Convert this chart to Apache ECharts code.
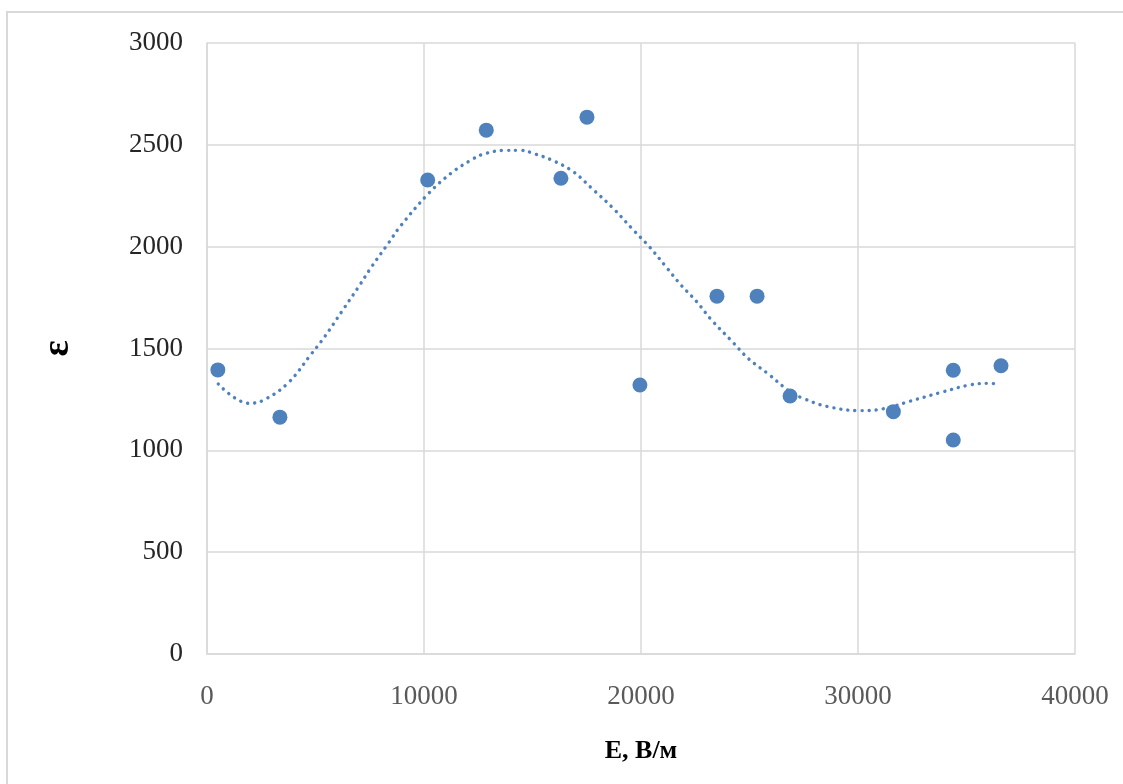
<!DOCTYPE html>
<html>
<head>
<meta charset="utf-8">
<script src="https://cdn.jsdelivr.net/npm/echarts@6/dist/echarts.min.js"></script>
<style>
html,body{margin:0;padding:0;background:#fff;}
#chart{width:1123px;height:784px;}
</style>
</head>
<body>
<div id="chart"></div>
<script>
// Measured points: E (V/m) and permittivity ε
const fieldE = [500, 3360, 10170, 12870, 16310, 17510, 19950, 23500, 25350, 26870, 31630, 34390, 34390, 36590];
const epsilon = [1395, 1163, 2327, 2572, 2336, 2636, 1321, 1757, 1757, 1267, 1190, 1393, 1051, 1415];

// Trend line
const trendE = [520, 1935, 2594, 3719, 4792, 5424, 6207, 6991, 7571, 8373, 8894, 10244, 11276, 12119, 12732, 13764, 14455, 15114, 15957, 16879, 17727, 18722, 19644, 20382, 21183, 21842, 22566, 23224, 24178, 24975, 25865, 26865, 27478, 28556, 30090, 31164, 32394, 33777, 35159, 36081, 36541];
const trendEps = [1326, 1231, 1246, 1329, 1471, 1558, 1681, 1804, 1899, 2019, 2098, 2265, 2363, 2422, 2454, 2473, 2473, 2455, 2422, 2368, 2287, 2188, 2082, 2000, 1897, 1812, 1730, 1643, 1537, 1448, 1375, 1288, 1255, 1216, 1195, 1204, 1241, 1283, 1321, 1329, 1321];

const xTicks = {min: 0, max: 40000, interval: 10000};
const yTicks = {min: 0, max: 3000, interval: 500};

const chart = echarts.init(document.getElementById('chart'));
const serif = '"Liberation Serif", "DejaVu Serif", serif';
const gridColor = '#d9d9d9';
const blue = '#4F81BD';

chart.setOption({
  animation: false,
  backgroundColor: '#fff',
  graphic: [{
    type: 'rect',
    shape: {x: 7, y: 12, width: 1200, height: 900},
    style: {fill: 'none', stroke: '#d9d9d9', lineWidth: 2},
    silent: true
  }],
  grid: {left: 207, right: 48, top: 43, bottom: 130},
  xAxis: {
    type: 'value',
    min: xTicks.min, max: xTicks.max, interval: xTicks.interval,
    name: 'E, В/м',
    nameLocation: 'middle',
    nameGap: 84,
    nameTextStyle: {fontFamily: serif, fontSize: 26, fontWeight: 'bold', color: '#000'},
    axisLine: {show: true, lineStyle: {color: gridColor, width: 1.5}},
    axisTick: {show: false},
    axisLabel: {fontFamily: serif, fontSize: 27, color: '#595959', margin: 29, formatter: v => String(v)},
    splitLine: {show: true, lineStyle: {color: gridColor, width: 1.5}}
  },
  yAxis: {
    type: 'value',
    min: yTicks.min, max: yTicks.max, interval: yTicks.interval,
    name: 'ε',
    nameLocation: 'middle',
    nameRotate: 90,
    nameGap: 130,
    nameTextStyle: {fontFamily: serif, fontSize: 38, fontWeight: 'bold', color: '#000'},
    axisLine: {show: true, lineStyle: {color: gridColor, width: 1.5}},
    axisTick: {show: false},
    axisLabel: {fontFamily: serif, fontSize: 27, color: '#262626', margin: 24, formatter: v => String(v)},
    splitLine: {show: true, lineStyle: {color: gridColor, width: 1.5}}
  },
  series: [
    {
      type: 'line',
      data: trendE.map((x, i) => [x, trendEps[i]]),
      smooth: 0.4,
      showSymbol: false,
      symbol: 'none',
      lineStyle: {color: blue, width: 3.4, type: [0.1, 7], cap: 'round', opacity: 1},
      z: 2
    },
    {
      type: 'scatter',
      data: fieldE.map((x, i) => [x, epsilon[i]]),
      symbol: 'circle',
      symbolSize: 15,
      itemStyle: {color: blue, opacity: 1},
      z: 3
    }
  ]
});
</script>
</body>
</html>
